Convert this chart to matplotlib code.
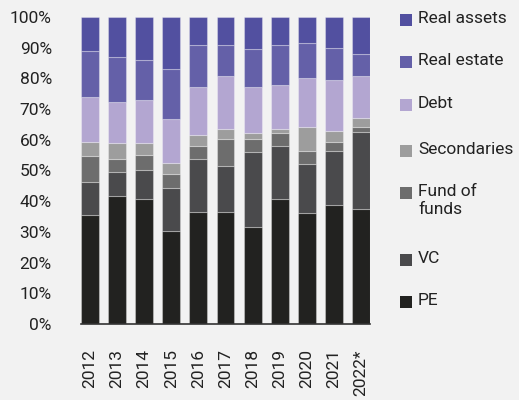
import matplotlib.pyplot as plt
from matplotlib.patches import Rectangle
import numpy as np

plt.rcParams['font.family'] = ['Roboto', 'DejaVu Sans']

years = ['2012', '2013', '2014', '2015', '2016', '2017', '2018', '2019', '2020', '2021', '2022*']

# shares in %
pe = [35.4, 41.8, 40.8, 30.4, 36.6, 36.6, 31.7, 40.7, 36.0, 38.8, 37.3]
vc = [10.7, 7.8, 9.5, 14.0, 17.2, 15.0, 24.2, 17.3, 16.2, 17.7, 25.1]
fof = [8.5, 4.2, 4.8, 4.4, 4.2, 8.5, 4.2, 4.3, 4.3, 2.8, 1.9]
secondaries = [4.8, 5.0, 3.7, 3.5, 3.6, 3.5, 2.2, 1.3, 7.8, 3.6, 2.8]
debt = [14.4, 13.5, 14.2, 14.4, 15.6, 17.1, 14.9, 14.4, 15.7, 16.5, 13.6]
real_estate = [15.0, 14.8, 12.9, 16.3, 13.6, 10.1, 12.3, 12.8, 11.4, 10.6, 7.2]
real_assets = [11.2, 12.9, 14.1, 17.0, 9.2, 9.2, 10.5, 9.2, 8.6, 10.0, 12.1]

series = [pe, vc, fof, secondaries, debt, real_estate, real_assets]
labels = ['PE', 'VC', 'Fund of\nfunds', 'Secondaries', 'Debt', 'Real estate', 'Real assets']
colors = ['#222220', '#4a4a4c', '#6d6d6d', '#9d9d9d', '#b3a6d1', '#6460a8', '#5250a0']

bg = '#f2f2f2'
fig = plt.figure(figsize=(5.19, 4.0), dpi=100, facecolor=bg)
ax = fig.add_axes([81 / 519, 76 / 400, 289 / 519, 307 / 400], facecolor=bg)

x = np.arange(len(years))
bottom = np.zeros(len(years))
for vals, col in zip(series, colors):
    vals = np.array(vals)
    ax.bar(x, vals, 0.66, bottom=bottom, color=col,
           edgecolor=(1, 1, 1, 0.3), linewidth=0.8)
    bottom += vals

ax.set_ylim(0, 100)
ax.set_xlim(-0.33, len(years) - 0.67)
ax.set_yticks(np.arange(0, 101, 10))
ax.set_yticklabels([f'{v}%' for v in range(0, 101, 10)])
ax.set_xticks(x)
ax.set_xticklabels(years, rotation=90)
ax.tick_params(axis='y', length=0, pad=21, labelsize=12.5, colors='#222222')
ax.tick_params(axis='x', length=0, pad=18, labelsize=12.5, colors='#222222')

for s in ['left', 'right', 'top']:
    ax.spines[s].set_visible(False)
ax.spines['bottom'].set_color('#333333')
ax.spines['bottom'].set_linewidth(1.2)

# legend, top to bottom
leg_y = [20, 62, 105, 151, 193, 260, 302]
for i, (lab, col) in enumerate(zip(labels[::-1], colors[::-1])):
    yc = leg_y[i]
    fig.patches.append(Rectangle((400 / 519, 1 - (yc + 6) / 400), 12 / 519, 12 / 400,
                                 transform=fig.transFigure, facecolor=col, edgecolor='none'))
    fig.text(418 / 519, 1 - (yc - 9) / 400, lab, fontsize=12.5, color='#222222',
             va='top', ha='left', linespacing=1.25)

fig.savefig('out.png', dpi=100, facecolor=bg)
